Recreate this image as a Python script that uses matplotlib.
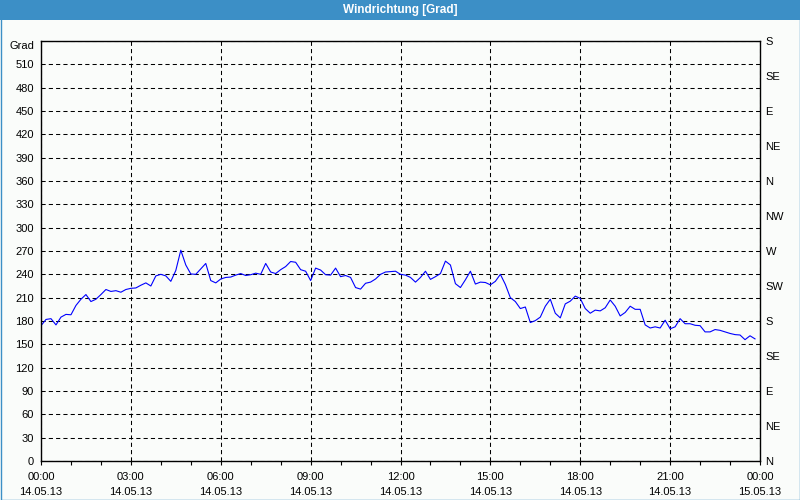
import matplotlib
matplotlib.use("Agg")
import matplotlib.pyplot as plt
import matplotlib.dates as mdates
from matplotlib.patches import Rectangle
import pandas as pd

# wind direction in degrees, one reading every 10 minutes (14.05.13)
start = "2013-05-14 00:00"
end = "2013-05-15 00:00"
direction = [
    174, 182, 183, 175, 185, 188.5, 188, 200, 208, 214,
    205, 208, 214, 220.5, 218, 219, 217, 220.5, 222, 222.5,
    226, 229, 225, 238, 240, 238, 231, 245, 271, 252,
    240.5, 240, 247, 254, 232, 229, 234, 236, 236.5, 239,
    241, 238.5, 239.5, 241.5, 240, 254, 243, 241, 246, 250,
    256.5, 255.5, 246, 244, 232, 248, 245.5, 239.5, 239, 248,
    237, 238.5, 236, 223, 221, 228.5, 230, 234, 240, 243,
    243.5, 244, 240, 239, 236, 230, 236, 244, 233.5, 237,
    241, 257, 252, 228, 223, 233, 244, 227.5, 230, 229.5,
    226.5, 231, 240, 227, 210, 205, 196, 198, 178, 180.5,
    185, 199, 208, 190, 184, 202, 205.5, 212, 209, 196,
    190, 194, 193, 197, 207, 199, 186.5, 191, 199, 195,
    195, 175, 171, 172.5, 171, 181, 170, 172.5, 183, 176.5,
    176.5, 174.5, 174, 166, 166, 169, 168, 166, 164, 162.5,
    162, 156, 161, 157,
]
times = pd.date_range(start, periods=len(direction), freq="10min")

left_ticks = list(range(0, 541, 30))
left_labels = [str(v) for v in left_ticks[:-1]] + ["Grad"]
right_ticks = list(range(0, 541, 45))
right_labels = ["N", "NE", "E", "SE", "S", "SW", "W", "NW",
                "N", "NE", "E", "SE", "S"]

title = "Windrichtung [Grad]"
bar_color = "#3c8fc6"
bg = "#fafcfa"

plt.rcParams["font.family"] = ["Liberation Sans", "DejaVu Sans"]
plt.rcParams["font.size"] = 8

W, H = 800, 500
fig = plt.figure(figsize=(W / 100, H / 100), dpi=100, facecolor=bg)

# title bar + outer frame
fig.patches.append(Rectangle((0, 1 - 20 / H), 1, 20 / H, transform=fig.transFigure,
                             facecolor=bar_color, edgecolor="none", zorder=0))
fig.patches.append(Rectangle((0.5 / W, 0.5 / H), 1 - 1 / W, 1 - 1 / H,
                             transform=fig.transFigure, facecolor="none",
                             edgecolor=bar_color, lw=1.0, zorder=5))
fig.text(0.5, 1 - 10 / H, title, color="white", fontweight="bold",
         fontsize=8.5, ha="center", va="center")

ax = fig.add_axes([41 / W, 1 - 461 / H, 719 / W, 420 / H], facecolor=bg)
ax.plot(times, direction, color="#0000ff", lw=0.8)

ax.set_xlim(pd.Timestamp(start), pd.Timestamp(end))
ax.set_ylim(0, 540)

ax.xaxis.set_major_locator(mdates.HourLocator(byhour=range(0, 24, 3)))
ax.xaxis.set_minor_locator(mdates.HourLocator())
ax.xaxis.set_major_formatter(mdates.DateFormatter("%H:%M\n%d.%m.%y"))
for lab in ax.get_xticklabels():
    lab.set_linespacing(1.55)
ax.tick_params(axis="x", which="both", direction="out", length=3, width=0.8,
               color="black", pad=5)

ax.set_yticks(left_ticks)
ax.set_yticklabels(left_labels)
ax.tick_params(axis="y", length=0, pad=5)
ax.get_yticklabels()[-1].set_va("top")

ax.grid(True, which="major", color="black", lw=0.75, linestyle=(0, (4, 3)))
for s in ax.spines.values():
    s.set_linewidth(1.0)
    s.set_color("black")

ax2 = ax.twinx()
ax2.set_ylim(0, 540)
ax2.set_yticks(right_ticks)
ax2.set_yticklabels(right_labels)
ax2.tick_params(axis="y", length=0, pad=4)
for s in ax2.spines.values():
    s.set_visible(False)

# shift the date labels so the two lines sit like the original
fig.canvas.draw()
fig.savefig("out.png", dpi=100, facecolor=bg)
